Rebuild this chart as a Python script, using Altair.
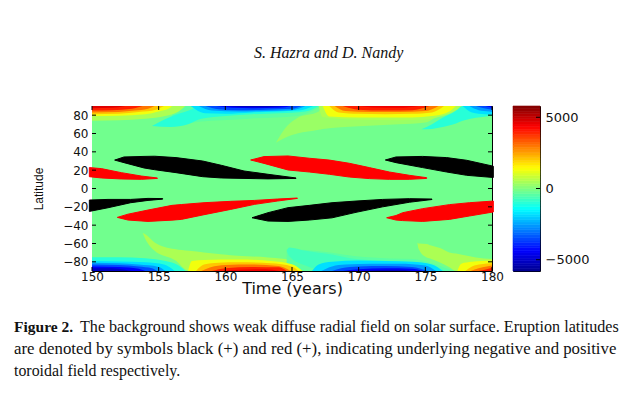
import altair as alt
import pandas as pd

# ---------- axes ----------
X_TICKS = [150, 155, 160, 165, 170, 175, 180]
Y_TICKS = [-80, -60, -40, -20, 0, 20, 40, 60, 80]
BAR_TICKS = [-5000, 0, 5000]
FIELD_MAX = 5790
BACKGROUND_FIELD = -170

# jet colour scale (value, colour)
JET_VALUES = [-5790, -4343, -1448, 1448, 4343, 5790]
JET_COLOURS = ["#00008f", "#0000ff", "#00ffff", "#ffff00", "#ff0000", "#800000"]

# ---------- contour outlines of the weak radial field: (value, times, edge latitudes, other edge) ----------
NORTH_BANDS = [
    (300, [163.8,164.3,165,165.4,167,167.3,170,173,175,176,177], [50,54,58.5,60,64,65,68,70,72,80,90], [50,62,73,77,84,90,90,90,90,90,90]),
    (-400, [156,158.2,159.7,162,165.4,167.2], [68,73,74.5,76.5,79.2,90], None),
    (-1000, [154.5,155.9,157.2,158.2,160,162,164,166,167], [68.3,67.2,70.1,76,79,81,82,84,90], [68.3,78.2,84.7,90,90,90,90,90,90]),
    (-1800, [157.4,158.5,160,162,164,165.5,166.6], [90,82,81.5,83,84,85,90], None),
    (-2600, [158,159,161,163,165,166], [90,85,84,84.5,85.5,90], None),
    (-3500, [158.5,159.5,161,163,165,165.7], [90,86.5,85.5,86,87,90], None),
    (-4400, [159.3,160.5,162,164,165], [90,88,87.5,88,90], None),
    (-5100, [160,161,163,164.5], [90,89,88.7,90], None),
    (500, [150,152,154,155.5,156.5,157], [74,74.5,76,79,84,90], None),
    (1300, [150,152,154,155,155.8,156], [79,79.5,81,84,87.5,90], None),
    (2100, [150,152,153.5,154.8,155.4], [81,81.5,83.5,86,90], None),
    (3000, [150,152,153.2,154.2,154.7], [83,83.5,85,87,90], None),
    (4000, [150,151.5,153,153.8], [85,85.5,87,90], None),
    (4700, [150,151.5,152.5], [87.5,88,90], None),
    (500, [167,167.3,170,173,175,176,177,177.8], [90,78,75,74.5,75,78,83,90], None),
    (1300, [167.3,167.8,170,172,174,175.5,176.8,177.3], [90,78.5,77.5,77.5,77.5,79,84,90], None),
    (2100, [167.8,168.5,170,172,174,175.5,176.4], [90,83,81.5,81,81.5,83,90], None),
    (3000, [168.2,169,171,173,175,176], [90,84.5,83.5,83.5,84.5,90], None),
    (4000, [168.8,170,172,174,175.3], [90,86,85,85.5,90], None),
    (4500, [170,171,173,174.5], [90,88.5,88,90], None),
    (-1000, [174.7,175.5,176.1,177.3,177.8,179.8,180], [64.7,65,66.5,71,73.8,79,79.5], [64.7,70,75.5,84.7,90,90,90]),
    (-1800, [177.8,178.5,179.5,180], [90,83,81,80.5], None),
    (-2600, [178.3,179,179.8,180], [90,85.5,84,83.5], None),
    (-3500, [178.8,179.4,180], [90,87.5,86], None),
    (-4400, [179.5,180], [90,88], None),
]

SOUTH_BANDS = [
    (500, [153.8,154,154.7,156.2,157.3,158.4,160.9,163.2,165.4,166.5], [-48.6,-50,-58.8,-66.1,-68,-69.8,-73.4,-75.2,-78.9,-90], [-48.6,-55,-68,-78,-90,-90,-90,-90,-90,-90]),
    (-400, [164.6,166,168,169.8,172.3,174.1,175.3,176.8,177.2], [-66,-67,-70,-74,-76.3,-77,-80.7,-88,-90], None),
    (-1000, [150,152,154,155.5,156.5,157], [-75,-75,-76,-79,-84,-90], None),
    (-1800, [150,152,154,155.4,156.2], [-79,-79.5,-80.5,-83,-90], None),
    (-2600, [150,152,153.5,155,155.5], [-81,-81.5,-83,-85.5,-90], None),
    (-3500, [150,152,153.5,154.5,154.9], [-83,-83.5,-85,-87,-90], None),
    (-4400, [150,152,153.5,154], [-85,-85.5,-87.5,-90], None),
    (-5100, [150,151.5,152.5,153], [-87,-87,-88.5,-90], None),
    (-700, [164.6,164.8,166,168,169.8,172.3,174.1,175.3,176.5], [-68,-64.3,-68,-72,-77,-79,-80,-83,-90], [-68,-74,-84,-90,-90,-90,-90,-90,-90]),
    (-1800, [166.5,167,168,170,172,174,175.5,176.3], [-90,-83,-80,-78.5,-79,-80,-83,-90], None),
    (-2600, [167.2,168,169,171,173,175,175.8], [-90,-85,-83,-82,-82,-84,-90], None),
    (-3500, [168,168.7,170,172,174,175.2], [-90,-87,-85,-84.5,-85.5,-90], None),
    (-4400, [168.8,170,172,174,174.8], [-90,-88,-87,-87.5,-90], None),
    (-5100, [170,171.5,173,174], [-90,-89,-88.7,-90], None),
    (1300, [157.2,157.5,158.4,161,163.4,165,165.8], [-90,-79,-78,-77.5,-79,-82.5,-90], None),
    (2100, [157.8,158.4,159.5,161,163.4,165,165.5], [-90,-83,-81,-80.5,-81.5,-85,-90], None),
    (3000, [158.2,158.9,160,162,164,164.9], [-90,-86,-83.5,-83,-84.5,-90], None),
    (4000, [159,160,162,164,164.6], [-90,-87,-85.5,-86,-90], None),
    (4500, [159.8,161,163,164.1], [-90,-88.5,-88,-90], None),
    (500, [174.4,174.5,175.1,175.3,176.1,176.8,177.3,178.8,180], [-58.8,-60,-60.6,-61.5,-65,-69.8,-71,-75.2,-77], [-58.8,-66,-75.2,-76,-80.7,-86,-90,-90,-90]),
    (1300, [177.4,177.7,178.5,180], [-90,-82,-80,-78.5], None),
    (2100, [178,178.5,179.2,180], [-90,-85,-82.5,-81.5], None),
    (3000, [178.4,179,179.6,180], [-90,-87,-85,-84], None),
    (4000, [179,179.6,180], [-90,-88,-86.5], None),
]

# ---------- eruption wings: (colour, times, upper latitudes, lower latitudes) ----------
WINGS = [
    ("red", [149.8,150.7,152.2,153.7,154.9], [22.8,21.7,17.3,13.6,11.5], [12.9,11.5,10.4,10,11]),
    ("black", [151.7,152.4,153.9,154.7,156.3,158.3,159.7,161.4,163.2,165.3], [31,34.4,35,35.2,33.7,30,25.3,19.1,15.5,11.5], [31,28.2,22.4,20.5,17.3,12.9,11.5,11,10.5,11]),
    ("red", [161.9,162.9,164.7,166.3,167.8,169.3,170.8,172.3,173.8,175.1], [31.1,34.8,35.5,33,31,27.5,22.8,18,14.4,11.8], [31.1,27.4,20.2,18,15.5,12.5,10.8,10,10,11]),
    ("black", [172,172.8,174.8,176.6,178.1,180.1], [31.1,34.4,35,33.7,30.8,24.3], [31.1,28.2,22.8,18,14.4,12]),
    ("black", [149.8,151.2,152.9,154.2,155.3], [-12.6,-11.9,-11.9,-10.8,-11], [-25,-21,-15.5,-13,-11.6]),
    ("red", [151.9,152.7,154.2,156,156.7,158.4,160.4,162.2,163.9,165.4], [-31.5,-28,-23.5,-18.4,-17.5,-15.5,-14,-13,-11.5,-10.4], [-31.5,-34.4,-35.9,-34.5,-33.7,-28.6,-22.8,-17.3,-13.7,-10.8]),
    ("black", [162,163.2,164.7,166.3,168,169.8,171.8,173.8,175.5], [-31.9,-26.4,-20.9,-18.4,-15.5,-13.7,-11.9,-11.1,-11.5], [-31.9,-35.5,-35.9,-34.4,-32,-26,-20,-15,-12]),
    ("red", [172.1,172.8,173.3,174.8,176.8,178.3,180.1], [-31.9,-29.5,-26.4,-22,-17.6,-15.5,-13.7], [-31.9,-34.4,-35,-35.9,-33.7,-30,-25.6]),
]

# ---------- text ----------
AUTHORS = "S. Hazra and D. Nandy"
CAPTION_HEAD = "Figure 2."
CAPTION_LINE_1 = "The background shows weak diffuse radial field on solar surface. Eruption latitudes"
CAPTION_LINE_2 = "are denoted by symbols black (+) and red (+), indicating underlying negative and positive"
CAPTION_LINE_3 = "toroidal field respectively."
X_TITLE = "Time (years)"
Y_TITLE = "Latitude"
TICK_FONT = "DejaVu Sans"

# ---------- build tables ----------
rows = []
for i, (value, times, edge, other) in enumerate(NORTH_BANDS + SOUTH_BANDS):
    pole = 90 if i < len(NORTH_BANDS) else -90
    for j, t in enumerate(times):
        rows.append({"id": i, "value": value, "time": t, "lat": edge[j], "lat2": other[j] if other else pole})
bands = pd.DataFrame(rows)

rows = []
for i, (colour, times, upper, lower) in enumerate(WINGS):
    for t, u, l in zip(times, upper, lower):
        rows.append({"id": i, "colour": colour, "time": t, "lat": l, "lat2": u})
wings = pd.DataFrame(rows)

x_scale = alt.Scale(domain=[150, 180], nice=False, zero=False)
y_scale = alt.Scale(domain=[-90, 90], nice=False, zero=False)
jet = alt.Scale(domain=JET_VALUES, range=JET_COLOURS, clamp=True, interpolate="rgb")

x_axis = alt.Axis(values=X_TICKS, format="d", ticks=False, domain=False, grid=False,
                  labelFont=TICK_FONT, labelFontSize=12, labelColor="#111", labelPadding=0,
                  title=X_TITLE, titleFont=TICK_FONT, titleFontSize=16, titleFontWeight="normal",
                  titleColor="#111", titlePadding=-2, labelFlush=False, labelOverlap=False)
y_axis = alt.Axis(values=Y_TICKS, ticks=False, domain=False, grid=False,
                  labelFont=TICK_FONT, labelFontSize=12, labelColor="#111", labelPadding=4, labelOverlap=False,
                  title=Y_TITLE, titleFont="Liberation Sans", titleFontSize=12, titleFontWeight="normal",
                  titleColor="#111", titlePadding=17)
x_enc = alt.X("time:Q", scale=x_scale, axis=x_axis)
y_enc = alt.Y("lat:Q", scale=y_scale, axis=y_axis)

background = alt.Chart(pd.DataFrame([{"time": 150, "t2": 180, "lat": -90, "lat2": 90, "value": BACKGROUND_FIELD}])).mark_rect().encode(
    x=x_enc, x2="t2:Q", y=y_enc, y2="lat2:Q",
    color=alt.Color("value:Q", scale=jet, legend=None))

field = alt.Chart(bands).mark_area(clip=True, interpolate="monotone").encode(
    x=x_enc, y=y_enc, y2="lat2:Q",
    color=alt.Color("value:Q", scale=jet, legend=None),
    detail="id:N")

wing_layer = alt.Chart(wings).mark_area(clip=False, strokeWidth=1).encode(
    x=x_enc, y=y_enc, y2="lat2:Q",
    fill=alt.Fill("colour:N", scale=None), stroke=alt.Stroke("colour:N", scale=None),
    detail="id:N")

TICK_LEN = 4
x_ticks_df = pd.DataFrame({"time": X_TICKS})
y_ticks_df = pd.DataFrame({"lat": Y_TICKS})
tick_layers = [
    alt.Chart(x_ticks_df).mark_rule(color="black").encode(x=x_enc, y=alt.value(0), y2=alt.value(TICK_LEN)),
    alt.Chart(x_ticks_df).mark_rule(color="black").encode(x=x_enc, y=alt.value(165 - TICK_LEN), y2=alt.value(165)),
    alt.Chart(y_ticks_df).mark_rule(color="black").encode(y=y_enc, x=alt.value(0), x2=alt.value(TICK_LEN)),
    alt.Chart(y_ticks_df).mark_rule(color="black").encode(y=y_enc, x=alt.value(400 - TICK_LEN), x2=alt.value(400)),
]


def label(text, x, y, **kw):
    return alt.Chart(pd.DataFrame({"t": [text]})).mark_text(font="Liberation Serif", align="left", baseline="alphabetic", color="#111", **kw).encode(
        x=alt.value(x), y=alt.value(y), text="t:N")


texts = [
    label(AUTHORS, 162, -48, fontSize=16, fontStyle="italic"),
    label(CAPTION_HEAD, -78, 226, fontSize=15.5, fontWeight="bold"),
    label(CAPTION_LINE_1, -12, 226, fontSize=16.1),
    label(CAPTION_LINE_2, -78, 248, fontSize=16.8),
    label(CAPTION_LINE_3, -78, 270, fontSize=15.9),
]

main = alt.layer(background, field, wing_layer, *tick_layers, *texts).properties(width=400, height=165)

# colour bar
BAR_STEPS = 64
bar = pd.DataFrame({
    "v": [-FIELD_MAX + (i + 0.5) * 2 * FIELD_MAX / BAR_STEPS for i in range(BAR_STEPS)],
    "v1": [-FIELD_MAX + i * 2 * FIELD_MAX / BAR_STEPS for i in range(BAR_STEPS)],
    "v2": [-FIELD_MAX + (i + 1) * 2 * FIELD_MAX / BAR_STEPS for i in range(BAR_STEPS)],
})
bar_y = alt.Scale(domain=[-FIELD_MAX, FIELD_MAX], nice=False, zero=False)
bar_axis = alt.Axis(orient="right", values=BAR_TICKS, format="d", ticks=False, domain=False, grid=False,
                    labelFont=TICK_FONT, labelFontSize=13, labelColor="#111", labelPadding=5, title=None)
bar_rect = alt.Chart(bar).mark_rect(strokeWidth=0.6).encode(
    x=alt.value(0), x2=alt.value(27),
    y=alt.Y("v1:Q", scale=bar_y, axis=bar_axis),
    y2="v2:Q",
    color=alt.Color("v:Q", scale=jet, legend=None),
    stroke=alt.Stroke("v:Q", scale=jet, legend=None))
bar_ticks = alt.Chart(pd.DataFrame({"v1": BAR_TICKS})).mark_rule(color="black").encode(
    y=alt.Y("v1:Q", scale=bar_y, axis=bar_axis), x=alt.value(27 - TICK_LEN), x2=alt.value(27))
colorbar = alt.layer(bar_rect, bar_ticks).properties(width=27, height=165)

chart = alt.hconcat(main, colorbar, spacing=21, bounds="flush").resolve_scale(color="independent", stroke="independent").properties(
    padding={"left": 5, "top": 36, "right": 0, "bottom": 0},
    background="white",
).configure_view(stroke="black", strokeWidth=1)

chart.save("out.html", embed_options={"renderer": "svg", "actions": False})
